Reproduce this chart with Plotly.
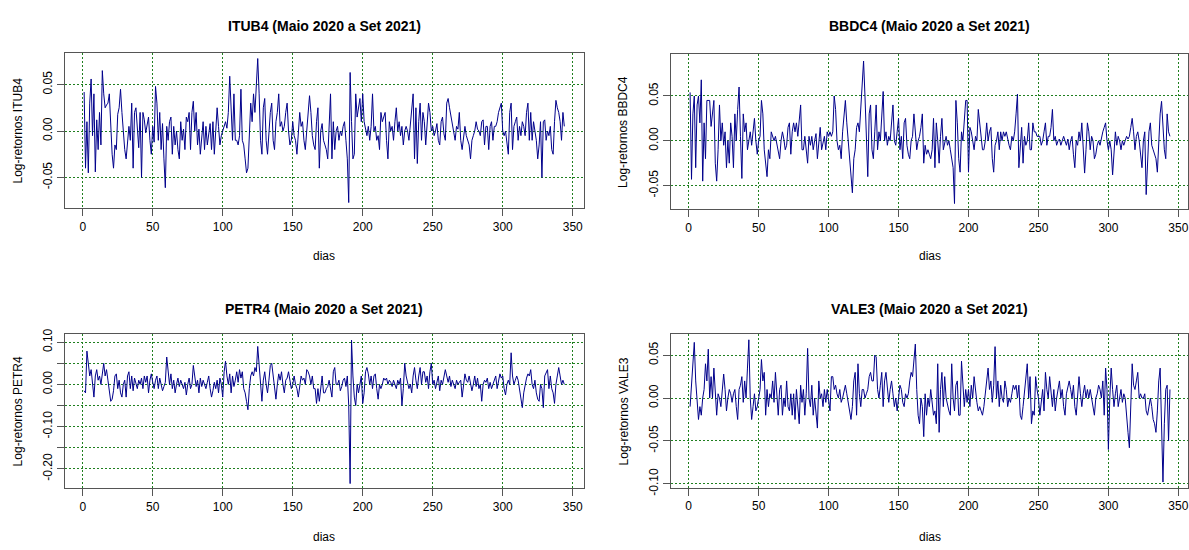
import plotly.graph_objects as go

# ---- data (log-returns) ----
itub4 = [
 0.042,-0.040,0.010,-0.045,0.030,0.056,-0.005,0.040,-0.044,0.012,
 -0.020,0.020,-0.015,0.065,0.040,0.025,0.028,0.030,0.040,0.002,
 -0.025,-0.040,-0.015,-0.020,0.018,0.025,0.045,0.020,-0.002,-0.020,
 -0.030,-0.012,0.005,-0.010,0.030,-0.040,0.020,0.025,0.004,-0.018,
 0.020,-0.050,0.020,0.012,-0.002,0.005,0.015,-0.010,-0.025,0.005,
 -0.012,0.048,0.030,-0.010,0.020,-0.020,0.008,-0.030,-0.061,0.005,
 -0.010,0.010,0.015,-0.025,0.005,-0.015,0.000,-0.020,-0.030,0.010,
 -0.010,0.002,-0.020,0.015,0.010,0.020,-0.020,0.020,0.032,0.000,
 0.020,-0.015,0.002,-0.025,-0.010,0.010,-0.020,0.005,-0.015,-0.005,
 0.008,-0.020,0.010,-0.025,0.005,0.025,0.005,-0.015,-0.005,0.000,
 0.005,0.010,0.003,0.020,0.059,0.030,-0.010,0.040,-0.010,-0.010,
 -0.015,-0.005,0.045,-0.010,-0.015,-0.030,-0.045,-0.040,-0.010,0.030,
 0.010,0.040,0.020,0.050,0.078,0.040,-0.010,-0.025,0.025,0.035,
 -0.010,-0.025,0.000,0.020,0.030,-0.010,-0.020,0.010,0.020,0.040,
 0.005,0.010,0.000,0.005,0.020,0.030,0.000,-0.015,-0.010,0.010,
 -0.005,-0.010,-0.025,-0.005,0.020,0.005,0.010,-0.010,-0.020,0.000,
 0.015,0.038,0.020,-0.005,-0.015,-0.020,0.010,0.025,-0.040,0.000,
 0.008,-0.010,-0.015,-0.020,-0.030,0.010,0.040,-0.030,0.010,-0.020,
 0.000,0.005,-0.010,0.000,-0.005,0.005,0.010,-0.010,-0.030,-0.077,
 0.063,0.010,-0.030,-0.025,0.040,0.015,0.025,0.035,0.010,0.040,
 0.010,0.000,-0.005,0.005,-0.010,0.005,0.040,0.000,0.005,-0.010,
 -0.005,-0.020,0.020,0.010,0.015,0.020,-0.010,-0.030,0.010,0.000,
 0.005,-0.010,0.010,0.025,0.000,0.010,-0.005,0.005,-0.015,0.000,
 0.005,0.000,-0.010,0.005,0.020,0.040,-0.030,0.025,-0.035,0.010,
 0.030,-0.010,0.020,0.010,-0.015,0.003,0.030,0.020,0.000,0.005,
 -0.005,0.000,0.008,-0.010,-0.015,0.010,0.015,-0.003,-0.010,0.030,
 0.035,0.025,0.015,0.005,-0.005,-0.010,0.005,0.002,0.020,-0.010,
 -0.020,-0.010,0.005,-0.005,-0.010,-0.015,-0.030,-0.010,-0.005,0.000,
 0.010,0.002,0.000,-0.005,0.010,0.012,-0.015,0.005,0.005,-0.020,
 0.005,0.010,-0.010,0.005,0.005,0.010,0.020,0.025,0.030,0.000,
 -0.005,0.000,-0.010,-0.025,0.020,0.030,-0.020,0.005,0.010,0.015,
 -0.010,0.005,-0.005,0.010,0.005,-0.005,0.020,0.030,-0.010,0.020,
 -0.010,0.010,0.000,-0.010,-0.030,-0.015,0.010,-0.050,0.010,0.012,
 -0.010,0.000,-0.005,0.005,-0.020,-0.025,0.010,0.033,0.025,0.020,
 0.010,-0.010,0.020,0.005]

bbdc4 = [
 0.054,-0.043,0.030,0.050,-0.030,0.040,0.050,0.020,0.068,-0.045,
 0.020,-0.020,0.045,0.045,0.045,0.016,0.030,0.045,-0.025,-0.045,
 -0.010,0.040,0.000,0.020,-0.005,0.010,-0.030,0.000,-0.025,0.020,
 0.005,-0.030,0.030,0.000,0.035,0.060,0.005,-0.042,0.030,0.010,
 0.020,-0.010,0.000,0.010,-0.005,0.015,0.025,0.000,-0.015,0.000,
 0.005,0.045,0.030,-0.010,-0.030,-0.040,-0.010,-0.020,0.010,0.005,
 0.000,0.005,-0.005,-0.010,-0.020,0.000,0.010,0.002,-0.010,-0.005,
 0.015,0.020,-0.015,0.010,0.020,0.010,0.020,0.005,0.020,0.040,
 -0.010,-0.010,0.005,-0.015,-0.025,0.005,-0.005,0.005,-0.010,0.000,
 0.008,-0.020,-0.005,0.015,-0.010,0.000,0.005,-0.010,0.010,0.005,
 0.010,0.005,0.010,0.050,0.035,0.000,-0.010,-0.005,-0.020,0.010,
 0.030,0.045,0.020,0.000,-0.015,-0.040,-0.058,-0.020,-0.010,0.015,
 0.020,0.010,0.040,0.075,0.089,0.050,0.000,-0.040,0.030,0.040,
 -0.010,-0.020,0.010,0.040,-0.010,0.010,0.000,0.030,0.055,0.000,
 0.010,-0.005,0.005,0.000,0.020,0.040,0.000,-0.005,0.010,0.025,
 -0.010,0.005,-0.020,0.020,0.025,-0.005,-0.015,-0.020,0.000,0.005,
 0.030,0.010,-0.010,0.000,0.005,0.015,0.030,-0.025,-0.005,-0.015,
 -0.010,-0.015,-0.020,-0.010,0.025,-0.030,0.020,0.000,-0.025,0.005,
 0.025,-0.010,0.000,0.005,-0.005,0.000,-0.010,-0.020,-0.030,-0.070,
 0.045,0.020,-0.020,-0.035,0.010,0.000,0.025,0.045,0.045,-0.035,
 0.015,0.010,0.000,-0.010,0.005,0.000,0.035,0.020,0.000,-0.010,
 -0.010,0.000,0.020,0.000,0.010,0.015,-0.020,-0.035,-0.005,0.000,
 0.010,-0.010,0.010,0.000,0.010,0.005,0.010,0.000,-0.005,-0.010,
 0.005,0.000,0.010,0.030,0.052,-0.030,0.000,0.015,-0.025,0.005,
 -0.005,0.000,0.020,-0.010,-0.010,0.020,0.010,0.010,0.005,0.005,
 0.005,-0.005,0.000,0.010,0.020,-0.005,0.005,0.005,0.015,0.035,
 0.000,0.005,-0.005,0.000,0.002,-0.005,0.000,0.005,0.000,-0.005,
 0.002,-0.010,0.000,0.005,-0.015,-0.030,0.000,-0.005,0.010,0.000,
 0.020,-0.015,-0.036,-0.010,0.020,0.010,-0.010,0.005,0.000,-0.020,
 -0.015,-0.005,0.000,-0.005,0.005,0.010,0.015,0.020,0.000,-0.010,
 0.000,-0.010,-0.038,-0.010,0.010,-0.005,0.005,0.000,-0.010,0.000,
 -0.005,0.000,0.005,0.002,0.005,0.015,0.025,0.010,-0.010,0.005,
 0.010,0.000,-0.020,-0.030,0.000,0.010,-0.060,-0.020,0.010,0.020,
 -0.005,-0.010,-0.015,-0.020,-0.035,0.005,0.030,0.044,0.020,-0.010,
 -0.020,0.030,0.010,0.005]

petr4 = [
 -0.015,-0.020,0.079,0.050,0.020,0.035,0.000,-0.030,0.020,0.035,
 0.010,0.020,0.000,0.030,0.050,0.020,0.035,0.010,-0.020,-0.040,
 -0.035,-0.015,0.020,0.025,-0.010,0.010,-0.020,-0.030,0.000,0.010,
 -0.030,0.020,0.030,-0.010,0.020,-0.015,0.015,0.005,-0.010,0.010,
 0.000,0.015,-0.010,0.020,0.005,0.020,-0.020,0.010,0.025,0.005,
 -0.010,0.010,0.020,-0.010,0.015,0.000,-0.015,-0.005,0.005,0.065,
 0.030,0.000,0.025,-0.010,0.010,-0.020,0.000,0.015,-0.005,0.010,
 0.000,-0.010,0.005,-0.025,0.000,0.015,-0.010,0.000,0.045,0.020,
 -0.005,0.010,-0.020,0.015,-0.005,0.010,0.000,-0.010,0.005,0.020,
 -0.010,-0.030,-0.015,0.005,-0.010,0.010,-0.020,0.015,0.000,-0.030,
 0.030,0.055,0.020,0.000,0.025,-0.020,0.020,-0.005,0.010,0.030,
 0.005,0.035,0.015,0.030,-0.010,-0.020,-0.040,-0.060,-0.010,0.020,
 0.030,0.020,0.040,0.030,0.090,0.050,0.000,-0.040,0.010,0.030,
 0.000,-0.020,0.010,0.045,0.050,0.020,-0.020,-0.035,0.000,0.025,
 0.010,0.030,0.000,-0.020,0.010,0.015,0.030,0.005,-0.010,0.000,
 0.020,0.000,-0.010,-0.030,0.000,0.020,0.010,0.015,0.000,0.035,
 0.030,0.020,0.000,0.020,-0.010,-0.010,-0.045,-0.010,-0.040,0.000,
 0.020,-0.020,-0.020,-0.010,-0.005,0.010,-0.010,-0.030,0.030,0.040,
 0.000,0.000,0.010,-0.015,-0.005,0.010,0.015,-0.005,0.020,-0.050,
 -0.235,0.105,0.020,-0.030,-0.050,0.000,-0.020,0.000,0.020,-0.045,
 -0.020,0.030,0.040,0.025,0.000,0.020,-0.010,0.020,0.025,-0.010,
 -0.035,0.000,-0.010,0.000,0.015,0.010,0.015,0.000,0.010,0.005,
 -0.005,0.010,0.000,-0.010,0.010,0.000,0.015,-0.050,-0.010,0.050,
 0.020,0.000,-0.010,0.000,-0.020,0.020,0.040,0.010,-0.010,0.020,
 0.040,0.000,0.030,0.030,0.005,0.020,-0.010,0.030,0.050,0.000,
 0.010,-0.010,0.005,0.020,-0.015,0.010,0.000,0.020,0.035,0.020,
 0.005,0.020,-0.005,0.010,0.000,-0.010,0.010,0.000,0.005,0.010,
 -0.030,0.000,0.025,0.010,0.005,0.020,0.000,-0.015,0.000,0.020,
 -0.005,0.015,-0.010,0.000,-0.040,0.000,0.010,0.005,0.015,-0.010,
 0.005,-0.010,0.000,0.010,0.020,-0.010,0.005,0.025,0.015,0.020,
 -0.010,-0.025,0.000,0.010,0.000,0.075,0.020,0.000,0.010,0.020,
 0.010,-0.010,-0.030,-0.055,-0.020,0.000,0.015,0.025,0.020,0.035,
 0.000,-0.010,0.010,-0.020,-0.035,-0.040,0.000,-0.010,-0.055,0.020,
 0.030,0.035,-0.010,0.020,-0.010,-0.020,-0.045,0.000,0.020,0.040,
 0.020,0.000,0.010,0.000]

vale3 = [
 -0.010,0.015,0.030,0.065,0.020,0.000,-0.025,-0.010,-0.020,0.000,
 0.010,0.040,0.020,0.057,0.000,0.025,0.000,0.035,0.000,-0.020,
 0.005,0.000,-0.010,0.010,0.028,0.010,-0.015,0.000,0.010,0.005,
 -0.005,0.005,0.010,-0.010,-0.025,0.010,0.015,0.025,-0.005,0.020,
 0.000,0.035,0.068,0.000,-0.025,-0.010,0.005,-0.015,-0.010,0.000,
 0.010,0.045,0.020,0.030,-0.020,0.010,-0.010,0.005,0.000,0.020,
 -0.005,0.030,0.000,-0.020,0.010,0.015,-0.020,0.000,-0.010,0.020,
 -0.010,-0.015,0.005,-0.020,0.005,-0.025,0.010,-0.010,-0.030,0.015,
 -0.005,0.010,-0.020,0.005,0.058,0.000,-0.010,0.015,-0.020,0.000,
 -0.015,-0.035,0.020,0.000,0.005,-0.010,0.010,-0.005,0.010,0.000,
 -0.015,0.025,0.025,0.010,0.015,0.005,0.000,0.010,-0.005,0.000,
 0.010,0.015,0.005,-0.005,-0.010,-0.025,-0.010,0.020,0.030,-0.020,
 0.040,0.005,-0.010,0.010,0.010,0.000,0.005,0.010,0.025,0.030,
 0.020,0.020,0.050,0.048,0.010,0.000,0.015,0.030,-0.010,0.020,
 0.030,0.010,-0.005,0.010,0.020,0.005,-0.010,0.000,-0.015,0.000,
 0.015,0.010,-0.005,-0.010,0.005,0.000,0.005,0.020,0.030,0.025,
 0.040,0.063,0.010,-0.020,-0.030,0.000,-0.010,-0.045,0.005,-0.020,
 0.000,-0.010,0.010,-0.010,-0.020,-0.015,-0.030,0.040,-0.040,0.010,
 0.030,-0.010,0.025,0.000,-0.010,-0.015,-0.020,0.040,0.000,-0.015,
 0.015,0.020,-0.020,-0.020,0.043,0.020,-0.010,0.010,-0.005,0.010,
 -0.010,0.015,0.000,0.025,0.005,-0.005,-0.015,-0.010,-0.015,-0.020,
 -0.010,0.005,0.020,0.035,0.010,0.020,-0.005,0.015,0.060,0.000,
 0.020,-0.010,0.015,0.000,-0.005,0.020,0.010,-0.010,0.000,-0.005,
 0.005,0.015,0.010,0.015,0.000,0.015,-0.020,-0.025,-0.010,0.010,
 0.025,0.040,0.000,0.025,-0.030,-0.015,-0.020,0.025,0.010,0.000,
 -0.020,0.000,0.010,-0.015,0.030,0.010,0.000,0.025,0.005,-0.010,
 0.010,-0.015,0.000,0.010,0.020,0.000,0.010,-0.010,-0.020,0.005,
 0.015,0.020,0.010,0.000,0.015,-0.010,-0.020,0.010,0.025,0.005,
 -0.010,0.005,0.015,0.000,0.010,0.000,0.010,0.000,-0.010,-0.020,
 0.000,0.005,0.015,0.010,0.000,0.020,-0.020,0.035,0.010,-0.060,
 0.000,0.035,0.010,-0.010,0.005,0.015,-0.010,0.000,0.010,-0.005,
 0.005,0.000,-0.025,-0.040,-0.058,-0.010,0.040,0.015,0.010,0.020,
 0.030,0.000,0.005,0.000,0.000,0.005,-0.015,-0.020,-0.010,0.000,
 -0.010,-0.025,-0.030,-0.040,-0.015,0.020,0.035,-0.050,-0.098,-0.030,
 0.010,0.015,-0.050,0.010]

tickers = ["ITUB4", "BBDC4", "PETR4", "VALE3"]
series = [itub4, bbdc4, petr4, vale3]
title_suffix = " (Maio 2020 a Set 2021)"
x_ticks = [0, 50, 100, 150, 200, 250, 300, 350]
y_ticks = [
    [-0.05, 0.00, 0.05],
    [-0.05, 0.00, 0.05],
    [-0.20, -0.15, -0.10, -0.05, 0.00, 0.05, 0.10],
    [-0.10, -0.05, 0.00, 0.05],
]
# labels that R actually prints (it drops labels that would overlap)
y_labels = [
    ["-0.05", "0.00", "0.05"],
    ["-0.05", "0.00", "0.05"],
    ["-0.20", "", "-0.10", "", "0.00", "", "0.10"],
    ["-0.10", "-0.05", "0.00", "0.05"],
]

# ---- layout geometry (pixels of the 1189x550 page) ----
W, H = 1189, 550
x_dom = [(65, 584), (671.5, 1189), (65, 584), (671.5, 1189)]
y_dom = [(48, 207.6), (49, 208.5), (337, 495), (336.7, 494.3)]
x_rng = [(-12.7, 357.7), (-12.7, 356.9), (-12.7, 357.7), (-12.7, 356.9)]
y_rng = [(-0.0832, 0.0842), (-0.0763, 0.0971), (-0.2464, 0.1185), (-0.1046, 0.0746)]
title_y = [21, 21, 311, 311]
xlab_y = [257, 257, 545, 545]
ylab_x = [18, 624, 18, 624]

FONT = "Liberation Sans, Arial, sans-serif"
GRID = "#1f7f1f"
BOX = "#555555"

fig = go.Figure()
annotations = []
layout = {}
for i, (tk, ys) in enumerate(zip(tickers, series)):
    n = i + 1
    xa = "x" if n == 1 else f"x{n}"
    ya = "y" if n == 1 else f"y{n}"
    fig.add_trace(go.Scatter(
        x=list(range(1, len(ys) + 1)), y=ys, mode="lines",
        line=dict(color="#00008B", width=1), xaxis=xa, yaxis=ya,
        showlegend=False, hoverinfo="skip"))
    xd = [x_dom[i][0] / W, min(x_dom[i][1] / W, 1.0)]
    yd = [1 - y_dom[i][1] / H, 1 - y_dom[i][0] / H]
    layout["xaxis" if n == 1 else f"xaxis{n}"] = dict(
        domain=xd, range=list(x_rng[i]), anchor=ya,
        tickmode="array", tickvals=x_ticks, ticktext=[str(v) for v in x_ticks],
        ticks="outside", ticklen=7, tickcolor=BOX,
        showline=True, mirror=True, linecolor=BOX, linewidth=1,
        showgrid=True, gridcolor=GRID, griddash="2px,2px", gridwidth=1,
        zeroline=False, tickfont=dict(family=FONT, size=12, color="#000"))
    layout["yaxis" if n == 1 else f"yaxis{n}"] = dict(
        domain=yd, range=list(y_rng[i]), anchor=xa,
        tickmode="array", tickvals=y_ticks[i], ticktext=y_labels[i], tickangle=-90,
        ticks="outside", ticklen=7, tickcolor=BOX,
        showline=True, mirror=True, linecolor=BOX, linewidth=1,
        showgrid=True, gridcolor=GRID, griddash="2px,2px", gridwidth=1,
        zeroline=False, tickfont=dict(family=FONT, size=12, color="#000"))
    cx = (x_dom[i][0] + x_dom[i][1]) / 2
    if i % 2 == 1:
        cx = (x_dom[i][0] + 1190) / 2
    cy = (y_dom[i][0] + y_dom[i][1]) / 2
    annotations.append(dict(
        text=f"<b>{tk}{title_suffix}</b>", x=cx / W, y=1 - title_y[i] / H,
        xref="paper", yref="paper", showarrow=False, xanchor="center", yanchor="middle",
        font=dict(family=FONT, size=14, color="#000")))
    annotations.append(dict(
        text="dias", x=cx / W, y=1 - xlab_y[i] / H,
        xref="paper", yref="paper", showarrow=False, xanchor="center", yanchor="middle",
        font=dict(family=FONT, size=12, color="#000")))
    annotations.append(dict(
        text=f"Log-retornos {tk}", x=ylab_x[i] / W, y=1 - cy / H, textangle=-90,
        xref="paper", yref="paper", showarrow=False, xanchor="center", yanchor="middle",
        font=dict(family=FONT, size=12, color="#000")))

fig.update_layout(
    width=W, height=H, margin=dict(l=0, r=0, t=0, b=0),
    paper_bgcolor="white", plot_bgcolor="white",
    annotations=annotations, **layout)

fig.write_html("out.html")
